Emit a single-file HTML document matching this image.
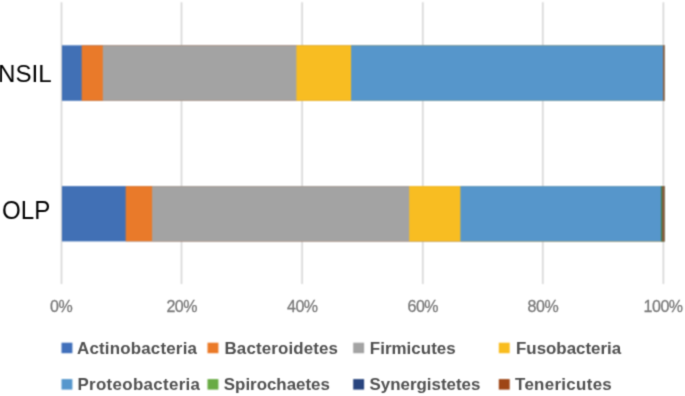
<!DOCTYPE html>
<html><head><meta charset="utf-8">
<style>
html,body{margin:0;padding:0;background:#fff;}
body{width:685px;height:396px;overflow:hidden;position:relative;font-family:"Liberation Sans",sans-serif;}
svg{position:absolute;left:0;top:0;}
#wrap{position:absolute;left:0;top:0;width:685px;height:396px;background:#fff;}
#chart{filter:url(#bl);}
#txt{position:absolute;left:0;top:0;width:685px;height:396px;filter:url(#bl2);}
.t{position:absolute;white-space:nowrap;line-height:1;}
.ax{font-size:16px;color:#7a7a7a;letter-spacing:-0.5px;-webkit-text-stroke:0.3px #7a7a7a;}
.yl{font-size:25px;color:#000;transform:scaleX(0.965);transform-origin:0 0;}
.lg{font-size:16.9px;font-weight:bold;color:#505050;}
.sq{position:absolute;width:10.9px;height:10.5px;}
</style></head><body><svg width="0" height="0" style="position:absolute"><filter id="bl" x="0" y="0" width="100%" height="100%" color-interpolation-filters="sRGB"><feConvolveMatrix order="3" kernelMatrix="1 2 1 2 4 2 1 2 1" divisor="16" edgeMode="duplicate"/></filter><filter id="bl2" x="0" y="0" width="100%" height="100%" color-interpolation-filters="sRGB"><feConvolveMatrix order="3" kernelMatrix="1 4 1 4 16 4 1 4 1" divisor="36" edgeMode="duplicate"/></filter></svg>
<div id="wrap">
<svg id="chart" width="685" height="396" viewBox="0 0 685 396">
  <g stroke="#d4d4d4" stroke-width="1.5">
    <line x1="61.5" y1="2.2" x2="61.5" y2="284"/>
    <line x1="181.5" y1="2.2" x2="181.5" y2="284"/>
    <line x1="302.1" y1="2.2" x2="302.1" y2="284"/>
    <line x1="422.8" y1="2.2" x2="422.8" y2="284"/>
    <line x1="542.8" y1="2.2" x2="542.8" y2="284"/>
    <line x1="663.4" y1="2.2" x2="663.4" y2="284"/>
  </g>
  <!-- NSIL -->
  <rect x="62" y="45.3" width="602.5" height="55.5" fill="#4170b5"/>
  <rect x="81.7" y="45.3" width="582.8" height="55.5" fill="#e97a2a"/>
  <rect x="102.8" y="45.3" width="561.7" height="55.5" fill="#a3a3a3"/>
  <rect x="296.4" y="45.3" width="368.1" height="55.5" fill="#f8bd22"/>
  <rect x="351.1" y="45.3" width="313.4" height="55.5" fill="#5696cb"/>
  <rect x="663" y="45.3" width="1.5" height="55.5" fill="#8f5a3c"/>
  <!-- OLP -->
  <rect x="62" y="186.1" width="602.5" height="55.3" fill="#4170b5"/>
  <rect x="125.7" y="186.1" width="538.8" height="55.3" fill="#e97a2a"/>
  <rect x="152.1" y="186.1" width="512.4" height="55.3" fill="#a3a3a3"/>
  <rect x="409.2" y="186.1" width="255.3" height="55.3" fill="#f8bd22"/>
  <rect x="460.4" y="186.1" width="204.1" height="55.3" fill="#5696cb"/>
  <rect x="660.9" y="186.1" width="3.6" height="55.3" fill="#3f7f50"/>
  <rect x="662.3" y="186.1" width="2.2" height="55.3" fill="#92583c"/>
  <!-- legend squares -->
  <rect x="61.5" y="342.7" width="10.9" height="10.5" fill="#4170bb"/>
  <rect x="207.5" y="342.7" width="10.9" height="10.5" fill="#eb7a28"/>
  <rect x="353.2" y="342.7" width="10.9" height="10.5" fill="#a3a3a3"/>
  <rect x="498.8" y="342.7" width="10.9" height="10.5" fill="#f9bd1f"/>
  <rect x="61.5" y="379.1" width="10.9" height="10.5" fill="#5697cd"/>
  <rect x="207.5" y="379.1" width="10.9" height="10.5" fill="#69ab45"/>
  <rect x="353.2" y="379.1" width="10.9" height="10.5" fill="#28447e"/>
  <rect x="498.8" y="379.1" width="10.9" height="10.5" fill="#9e4616"/>
</svg>
<div id="txt">
<div class="t yl" id="nsil" style="left:-2px;top:61.9px;font-size:24.6px;transform:scaleX(0.981);">NSIL</div>
<div class="t yl" id="olp" style="left:1.6px;top:197.8px;">OLP</div>

<div class="t ax" id="a0" style="left:50px;top:298.9px;">0%</div>
<div class="t ax" id="a1" style="left:166.4px;top:298.9px;">20%</div>
<div class="t ax" id="a2" style="left:287px;top:298.9px;">40%</div>
<div class="t ax" id="a3" style="left:407.5px;top:298.9px;">60%</div>
<div class="t ax" id="a4" style="left:527.6px;top:298.9px;">80%</div>
<div class="t ax" id="a5" style="left:643.6px;top:298.9px;">100%</div>

<div class="t lg" id="l0" style="left:77px;top:340.7px;letter-spacing:0.2px;">Actinobacteria</div>
<div class="t lg" id="l1" style="left:224.5px;top:340.7px;letter-spacing:0.15px;">Bacteroidetes</div>
<div class="t lg" id="l2" style="left:369.8px;top:340.7px;letter-spacing:0.05px;">Firmicutes</div>
<div class="t lg" id="l3" style="left:516px;top:340.7px;">Fusobacteria</div>

<div class="t lg" id="l4" style="left:77.5px;top:377.2px;letter-spacing:0.32px;">Proteobacteria</div>
<div class="t lg" id="l5" style="left:223.8px;top:377.2px;">Spirochaetes</div>
<div class="t lg" id="l6" style="left:369.6px;top:377.2px;">Synergistetes</div>
<div class="t lg" id="l7" style="left:515px;top:377.2px;letter-spacing:0.32px;">Tenericutes</div>
</div>
</div>
</body></html>
